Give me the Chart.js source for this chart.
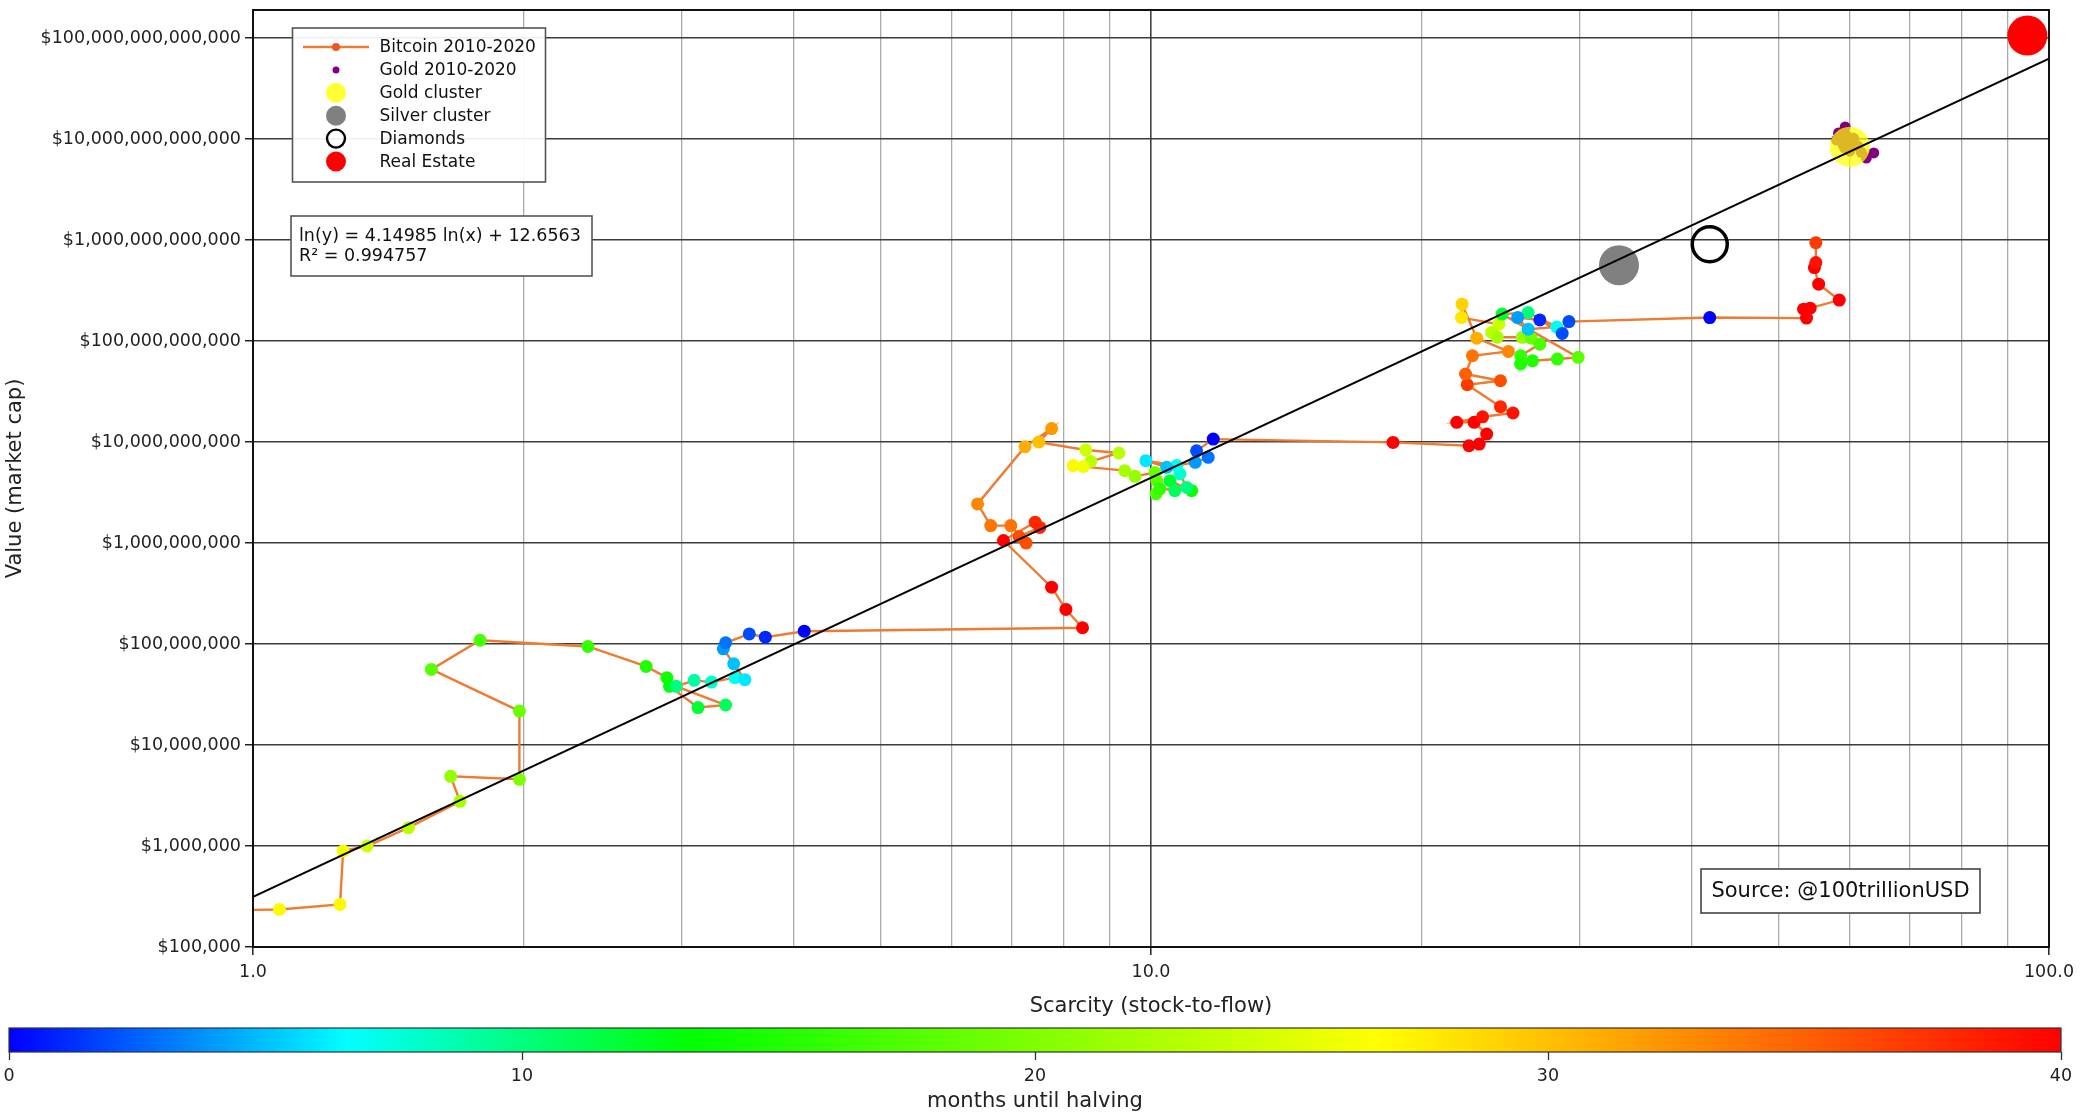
<!DOCTYPE html>
<html><head><meta charset="utf-8">
<script src="https://cdn.jsdelivr.net/npm/chart.js@4.4.1/dist/chart.umd.min.js"></script>
<style>
html,body{margin:0;padding:0;background:#fff;overflow:hidden;}
#wrap{position:relative;width:2080px;height:1115px;overflow:hidden;background:#fff;}
#main{position:absolute;left:0;top:-11px;}
#cbar{position:absolute;left:0;top:1020px;}
</style></head><body>
<div id="wrap">
<canvas id="main" width="2080" height="1031" style="width:2080px;height:1031px"></canvas>
<canvas id="cbar" width="2080" height="95" style="width:2080px;height:95px"></canvas>
</div>
<script>
// ---------------- DATA ----------------
// Bitcoin 2010-2020: stock-to-flow, market cap (USD), months until halving (colour)
const btcSF = [0.9,1.07,1.25,1.26,1.34,1.49,1.70,1.66,1.98,1.98,1.58,1.79,2.36,2.74,2.89,2.91,3.13,3.36,2.96,3.10,3.24,3.44,3.53,3.43,3.34,3.36,3.57,3.72,4.11,
  8.39,8.04,7.75,6.85,7.43,7.52,7.13,7.26,6.98,6.63,6.41,7.24,7.75,7.50,8.46,9.21,8.57,8.19,8.41,9.35,9.60,10.10,10.15,10.13,10.23,11.10,10.50,10.63,10.96,10.77,10.68,9.87,10.41,11.20,11.58,11.24,11.73,
  18.6,22.6,23.2,23.65,22.9,21.9,23.4,25.3,24.5,22.5,24.5,22.4,22.8,25.0,23.05,22.2,22.17,24.4,23.95,24.3,25.9,26.5,27.1,25.8,25.8,26.6,28.35,29.9,24.6,26.3,28.3,26.3,25.6,27.1,28.7,29.2,41.9,
  53.7,53.3,54.2,58.4,55.4,54.8,55.0,55.0];
const btcCap = [2.3e5,2.35e5,2.64e5,8.95e5,1.0e6,1.52e6,2.77e6,4.9e6,4.58e6,2.17e7,5.61e7,1.09e8,9.46e7,6.0e7,4.65e7,3.81e7,2.35e7,2.49e7,3.81e7,4.37e7,4.2e7,4.65e7,4.44e7,6.38e7,8.97e7,1.03e8,1.26e8,1.17e8,1.34e8,
  1.45e8,2.2e8,3.66e8,1.06e9,1.61e9,1.43e9,1.16e9,1.0e9,1.49e9,1.49e9,2.44e9,9.0e9,1.36e10,1.0e10,8.36e9,7.8e9,6.44e9,5.85e9,5.72e9,5.21e9,4.58e9,5.0e9,4.15e9,3.07e9,3.44e9,3.3e9,4.15e9,3.3e9,3.56e9,4.83e9,5.85e9,6.55e9,5.62e9,6.3e9,7.07e9,8.2e9,1.07e10,
  9.93e9,9.2e9,9.56e9,1.2e10,1.57e10,1.57e10,1.78e10,1.94e10,2.24e10,3.7e10,4.05e10,4.72e10,7.16e10,7.9e10,1.07e11,2.32e11,1.71e11,1.47e11,1.22e11,1.09e11,1.09e11,1.07e11,9.33e10,7.16e10,5.93e10,6.38e10,6.64e10,6.9e10,1.85e11,1.92e11,1.38e11,1.31e11,1.71e11,1.62e11,1.19e11,1.56e11,1.71e11,
  1.69e11,2.07e11,2.12e11,2.55e11,3.66e11,5.35e11,5.99e11,9.44e11];
const btcMonths = [28,27,27,26,24,23,22,21,20,19,18,17,16,15,14,13,12,11,10,9,8,7,6,5,4,3,2,1,0,
  40,40,40,40,38,38,36,36,34,34,33,31,32,30,24,23,23,27,26,22,21,19,18,17,16,14,12,11,10,8,7,6,5,4,3,2,0,
  40,40,40,40,40,40,39,39,38,37,36,35,34,33,31,29,28,24,23,22,21,19,17,16,15,15,16,18,12,10,7,5,4,1,2,2,0,
  40,40,40,40,40,40,39,37];
// Gold 2010-2020
const goldSF  = [59.3,58.3,58.0,59.0,60.3,61.2,60.0,61.8,63.8,62.6,59.5,59.2,60.6];
const goldCap = [1.32e13,1.15e13,9.8e12,8.8e12,9.6e12,8.6e12,7.6e12,7.4e12,7.3e12,6.5e12,1.08e13,8.2e12,1.02e13];
// Clusters
const goldClusterSF = [60.0],  goldClusterCap = [8.4e12];
const silverSF = [33.2],       silverCap = [5.65e11];
const diamondSF = [41.9],      diamondCap = [9.1e11];
const realEstateSF = [94.6],   realEstateCap = [1.06e14];
// Regression (from the chart's equation box)
const fitSlope = 4.14985, fitIntercept = 12.6563, fitR2 = 0.994757;
const fitRange = [1, 100];
// Ticks
const xTickValues = [1,2,3,4,5,6,7,8,9,10,20,30,40,50,60,70,80,90,100];
const xMajorTicks = [1,10,100];
const yTickValues = [1e5,1e6,1e7,1e8,1e9,1e10,1e11,1e12,1e13,1e14];
const cbarTicks = [0,10,20,30,40];
const cbarMin = 0, cbarMax = 40;

// ---------------- STYLE ----------------
const FONT = "'DejaVu Sans', 'Liberation Sans', sans-serif";
Chart.defaults.font.family = FONT;
Chart.defaults.color = '#222';
const cmapStops = [[0,[0,0,255]],[6.6,[0,255,255]],[13.3,[0,255,0]],[26.7,[255,255,0]],[40,[255,0,0]]];
function cmap(v){
  v = Math.max(cbarMin, Math.min(cbarMax, v));
  for (let i=1;i<cmapStops.length;i++){
    const [v0,c0]=cmapStops[i-1], [v1,c1]=cmapStops[i];
    if (v<=v1){ const t=(v-v0)/(v1-v0); return 'rgb('+c0.map((c,k)=>Math.round(c+(c1[k]-c)*t)).join(',')+')'; }
  }
  return 'rgb(255,0,0)';
}
const pts = (xs, ys) => xs.map((x,i)=>({x, y: ys[i]}));
const fitData = fitRange.map(x => ({x, y: Math.exp(fitSlope*Math.log(x) + fitIntercept)}));

const datasets = [
  {label:'Bitcoin 2010-2020', data: pts(btcSF, btcCap), showLine:true, borderColor:'#ef7b30', borderWidth:2.4,
   pointRadius:6.5, pointBorderWidth:0, pointBackgroundColor: c => cmap(btcMonths[c.dataIndex]),
   pointBorderColor: c => cmap(btcMonths[c.dataIndex]), order:6,
   legend:{kind:'line', dot:'#e8572b'}},
  {label:'Gold 2010-2020', data: pts(goldSF, goldCap), pointRadius:5.5, pointBorderWidth:0,
   pointBackgroundColor:'#800080', order:5, legend:{kind:'dot', r:3.5, color:'#800080'}},
  {label:'Gold cluster', data: pts(goldClusterSF, goldClusterCap), pointRadius:20, pointBorderWidth:0,
   pointBackgroundColor:'rgba(255,255,0,0.72)', order:4, legend:{kind:'dot', r:10, color:'rgba(255,255,0,0.8)'}},
  {label:'Silver cluster', data: pts(silverSF, silverCap), pointRadius:20, pointBorderWidth:0,
   pointBackgroundColor:'#808080', order:3, legend:{kind:'dot', r:10, color:'#808080'}},
  {label:'Diamonds', data: pts(diamondSF, diamondCap), pointRadius:17.5, pointBorderWidth:3.5,
   pointBackgroundColor:'rgba(255,255,255,0)', pointBorderColor:'#000', order:2, legend:{kind:'open', r:9}},
  {label:'Real Estate', data: pts(realEstateSF, realEstateCap), pointRadius:20, pointBorderWidth:0,
   pointBackgroundColor:'#ff0000', order:1, legend:{kind:'dot', r:10, color:'#ff0000'}},
  {label:'fit', data: fitData, showLine:true, borderColor:'#000', borderWidth:2, pointRadius:0, order:0}
];

const overlayPlugin = {
  id:'overlay',
  afterDraw(chart){
    const ctx = chart.ctx, a = chart.chartArea;
    ctx.save();
    // frame
    ctx.strokeStyle = '#111'; ctx.lineWidth = 2;
    ctx.strokeRect(a.left, a.top, a.right-a.left, a.bottom-a.top);
    // legend box
    const lx = a.left + 39.5, ly = a.top + 18, lw = 253, lh = 154;
    ctx.fillStyle = 'rgba(255,255,255,0.92)'; ctx.fillRect(lx, ly, lw, lh);
    ctx.strokeStyle = '#555'; ctx.lineWidth = 1.6; ctx.strokeRect(lx, ly, lw, lh);
    const mx = lx + 43.5, tx = lx + 87;
    ctx.font = '17px ' + FONT; ctx.textBaseline = 'middle'; ctx.textAlign = 'left';
    chart.data.datasets.filter(d=>d.legend).forEach((d,i)=>{
      const y = ly + 19 + i*22.9;
      const L = d.legend;
      if (L.kind==='line'){
        ctx.strokeStyle = d.borderColor; ctx.lineWidth = 2.4;
        ctx.beginPath(); ctx.moveTo(mx-33, y); ctx.lineTo(mx+33, y); ctx.stroke();
        ctx.fillStyle = L.dot; ctx.beginPath(); ctx.arc(mx, y, 4, 0, Math.PI*2); ctx.fill();
      } else if (L.kind==='dot'){
        ctx.fillStyle = L.color; ctx.beginPath(); ctx.arc(mx, y, L.r, 0, Math.PI*2); ctx.fill();
      } else {
        ctx.strokeStyle = '#000'; ctx.lineWidth = 2.4; ctx.beginPath(); ctx.arc(mx, y, L.r, 0, Math.PI*2); ctx.stroke();
      }
      ctx.fillStyle = '#111'; ctx.fillText(d.label, tx, y+1);
    });
    // equation box
    const ex = a.left + 38, ey = a.top + 206;
    ctx.fillStyle = '#fff'; ctx.fillRect(ex, ey, 301, 60);
    ctx.strokeStyle = '#555'; ctx.lineWidth = 1.6; ctx.strokeRect(ex, ey, 301, 60);
    ctx.fillStyle = '#111'; ctx.font = '17.5px ' + FONT;
    ctx.fillText('ln(y) = ' + fitSlope + ' ln(x) + ' + fitIntercept, ex + 8, ey + 20);
    ctx.fillText('R\u00B2 = ' + fitR2, ex + 8, ey + 40);
    // source box
    const sx = a.right - 348, sy = a.bottom - 78;
    ctx.fillStyle = '#fff'; ctx.fillRect(sx, sy, 279, 44);
    ctx.strokeStyle = '#444'; ctx.lineWidth = 1.6; ctx.strokeRect(sx, sy, 279, 44);
    ctx.fillStyle = '#111'; ctx.font = '21px ' + FONT; ctx.textAlign = 'center';
    ctx.fillText('Source: @100trillionUSD', sx + 139.5, sy + 23);
    ctx.restore();
  }
};

new Chart(document.getElementById('main'), {
  type:'scatter',
  data:{datasets},
  options:{
    responsive:false, animation:false, events:[], devicePixelRatio:1,
    layout:{padding:{left:0, right:31, top:9, bottom:0}},
    plugins:{legend:{display:false}, tooltip:{enabled:false}},
    scales:{
      x:{type:'logarithmic', min:1, max:100, position:'bottom',
        afterBuildTicks: s => { s.ticks = xTickValues.map(v=>({value:v})); },
        afterFit: s => { s.height = 73; s.paddingLeft = 0; s.paddingRight = 0; },
        ticks:{autoSkip:false, maxRotation:0, minRotation:0, padding:7, font:{size:17.5}, color:'#222',
          callback: v => xMajorTicks.includes(v) ? Number(v).toFixed(1) : ''},
        grid:{color: c => xMajorTicks.includes(c.tick && c.tick.value) ? '#444' : '#ababab',
              lineWidth: c => xMajorTicks.includes(c.tick && c.tick.value) ? 1.6 : 1.3,
              tickColor: c => xMajorTicks.includes(c.tick && c.tick.value) ? '#222' : 'rgba(0,0,0,0)',
              tickLength:8, tickWidth:1.5},
        border:{display:false},
        title:{display:true, text:'Scarcity (stock-to-flow)', font:{size:21}, color:'#222', padding:{top:0,bottom:1}}
      },
      y:{type:'logarithmic', min:1e5, max:1.9e14, position:'left',
        afterBuildTicks: s => { s.ticks = yTickValues.map(v=>({value:v})); },
        afterFit: s => { s.width = 253; s.paddingTop = 0; s.paddingBottom = 0; },
        ticks:{autoSkip:false, padding:4, font:{size:17.5}, color:'#222',
          callback: v => '$' + Number(v).toLocaleString('en-US')},
        grid:{color:'#3c3c3c', lineWidth:1.5, tickColor:'#222', tickLength:8, tickWidth:1.5},
        border:{display:false},
        title:{display:true, text:'Value (market cap)', font:{size:21}, color:'#222', padding:{top:3,bottom:0}}
      }
    }
  },
  plugins:[overlayPlugin]
});

// ---------------- COLOUR BAR ----------------
const cbarPlugin = {
  id:'cbarFill',
  beforeDatasetsDraw(chart){
    const ctx = chart.ctx, a = chart.chartArea, sx = chart.scales.x;
    const g = ctx.createLinearGradient(a.left, 0, a.right, 0);
    cmapStops.forEach(([v,c]) => g.addColorStop((sx.getPixelForValue(v)-a.left)/(a.right-a.left), 'rgb('+c.join(',')+')'));
    ctx.save();
    ctx.fillStyle = g; ctx.fillRect(a.left, a.top, a.right-a.left, a.bottom-a.top);
    ctx.strokeStyle = '#333'; ctx.lineWidth = 1.2; ctx.strokeRect(a.left, a.top, a.right-a.left, a.bottom-a.top);
    ctx.restore();
  }
};
new Chart(document.getElementById('cbar'), {
  type:'scatter',
  data:{datasets:[]},
  options:{
    responsive:false, animation:false, events:[], devicePixelRatio:1,
    layout:{padding:{left:9, right:19, top:8, bottom:0}},
    plugins:{legend:{display:false}, tooltip:{enabled:false}},
    scales:{
      x:{type:'linear', min:cbarMin, max:cbarMax, position:'bottom',
        afterBuildTicks: s => { s.ticks = cbarTicks.map(v=>({value:v})); },
        afterFit: s => { s.height = 63; s.paddingLeft = 0; s.paddingRight = 0; },
        ticks:{autoSkip:false, maxRotation:0, padding:6, font:{size:17.5}, color:'#222'},
        grid:{drawOnChartArea:false, drawTicks:true, tickLength:8, tickColor:'#333', tickWidth:1.3},
        border:{display:false},
        title:{display:true, text:'months until halving', font:{size:21}, color:'#222', padding:{top:0,bottom:1}}
      },
      y:{display:false, min:0, max:1}
    }
  },
  plugins:[cbarPlugin]
});
</script>
</body></html>
